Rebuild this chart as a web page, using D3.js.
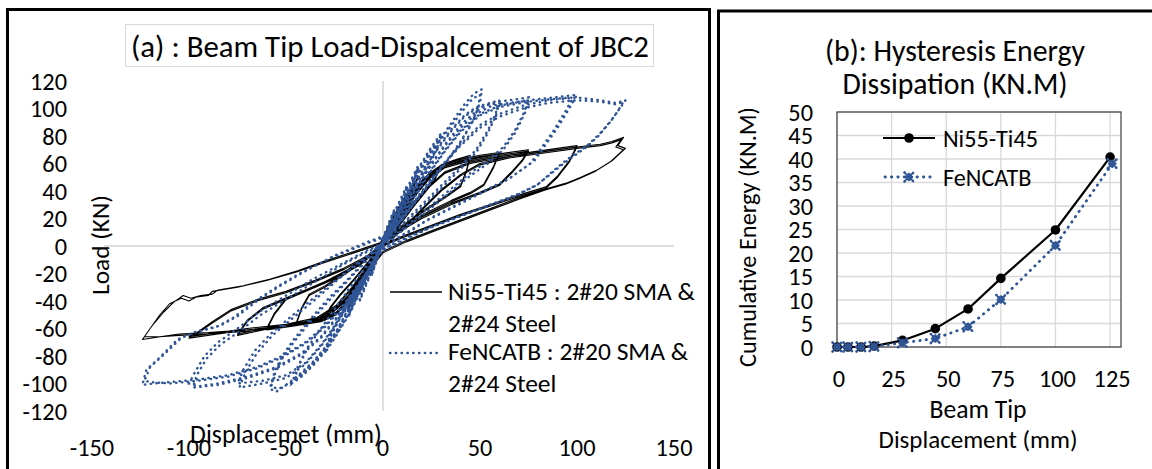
<!DOCTYPE html>
<html><head><meta charset="utf-8">
<script src="https://cdn.jsdelivr.net/npm/d3@7"></script>
<style>
html,body{margin:0;padding:0;background:#fff;}
svg{display:block;font-family:Carlito, Lato, "Open Sans", sans-serif;}
</style></head><body>
<svg id="c" width="1152" height="469"></svg>
<script>
// ---------- DATA ----------
// (a) Load–displacement hysteresis, [displacement mm, load kN]
const ni55Ti45Loop = [
[0,6],[3,15],[6,23],[5,17],[3,11],[0,3],[-3,-7],[-6,-17],[-5,-11],[-3,-5],[0,5],
[3,14],[6,22],[5,16],[3,10],[0,2],[-3,-8],[-6,-18],[-5,-12],[-3,-5],[0,5],
[4,17],[8,28],[12,38],[10,30],[6,19],[2,9],[0,3],[-4,-9],[-8,-21],[-12,-33],[-10,-25],[-6,-14],[-2,-3],[0,4],
[4,16],[8,27],[12,37],[10,29],[6,18],[2,8],[0,2],[-4,-10],[-8,-22],[-12,-34],[-10,-26],[-6,-15],[-2,-4],[0,4],
[5,19],[10,32],[15,43],[18,50],[15,41],[10,29],[5,17],[0,5],[-5,-11],[-10,-25],[-15,-38],[-18,-45],[-15,-35],[-10,-23],[-5,-11],[0,3],
[5,18],[10,31],[15,42],[18,49],[15,40],[10,28],[5,16],[0,4],[-5,-12],[-10,-26],[-15,-39],[-18,-46],[-15,-36],[-10,-24],[-5,-12],[0,3],
[6,20],[12,34],[18,45],[24,53],[30,59],[27,50],[22,41],[15,31],[8,19],[0,6],[-6,-11],[-12,-27],[-18,-40],[-24,-48],[-30,-52],[-27,-44],[-22,-35],[-15,-24],[-8,-12],[0,2],
[6,19],[12,33],[18,44],[24,52],[30,58],[27,49],[22,40],[15,30],[8,18],[0,5],[-6,-12],[-12,-28],[-18,-41],[-24,-49],[-30,-53],[-27,-45],[-22,-36],[-15,-25],[-8,-13],[0,2],
[6,18],[12,32],[18,44],[24,53],[30,59],[38,63],[45,66],[43,55],[40,44],[32,36],[22,27],[12,17],[0,6],[-6,-10],[-12,-25],[-18,-39],[-24,-48],[-30,-53],[-38,-55],[-45,-57],[-42,-45],[-38,-35],[-30,-29],[-20,-20],[-10,-10],[0,2],
[6,17],[12,31],[18,43],[24,52],[30,58],[38,62],[45,65],[43,54],[40,43],[32,35],[22,26],[12,16],[0,5],[-6,-11],[-12,-26],[-18,-40],[-24,-49],[-30,-54],[-38,-56],[-45,-58],[-42,-46],[-38,-36],[-30,-30],[-20,-21],[-10,-11],[0,1],
[6,16],[12,30],[18,42],[24,52],[30,58],[40,63],[50,66],[60,68],[57,58],[52,45],[45,39],[35,33],[22,24],[10,14],[0,4],[-6,-10],[-12,-25],[-18,-39],[-24,-49],[-32,-54],[-45,-57],[-60,-60],[-56,-49],[-50,-38],[-40,-32],[-30,-26],[-18,-17],[-8,-7],[0,2],
[6,15],[12,29],[18,41],[24,51],[30,57],[40,62],[50,65],[60,67],[57,57],[52,44],[45,38],[35,32],[22,23],[10,13],[0,3],[-6,-11],[-12,-26],[-18,-40],[-24,-50],[-32,-55],[-45,-58],[-60,-61],[-56,-50],[-50,-39],[-40,-33],[-30,-27],[-18,-18],[-8,-8],[0,1],
[6,15],[12,28],[18,40],[24,50],[32,58],[45,63],[60,67],[75,70],[72,63],[67,55],[60,45],[50,39],[35,31],[20,21],[8,11],[0,3],[-6,-10],[-12,-24],[-20,-40],[-28,-50],[-40,-55],[-55,-58],[-65,-61],[-75,-64],[-70,-54],[-62,-45],[-52,-39],[-40,-32],[-25,-23],[-12,-13],[0,1],
[6,14],[12,27],[18,39],[24,49],[32,57],[45,62],[60,66],[75,69],[72,62],[67,54],[60,44],[50,38],[35,30],[20,20],[8,10],[0,2],[-6,-11],[-12,-25],[-20,-41],[-28,-51],[-40,-56],[-55,-59],[-65,-62],[-75,-65],[-70,-55],[-62,-46],[-52,-40],[-40,-33],[-25,-24],[-12,-14],[0,0],
[8,15],[16,30],[24,44],[32,54],[45,61],[60,65],[80,69],[100,73],[96,62],[90,51],[84,43],[70,37],[55,30],[40,23],[25,15],[10,7],[0,1],[-8,-14],[-16,-30],[-24,-43],[-34,-52],[-50,-57],[-70,-60],[-85,-63],[-100,-66],[-96,-63],[-88,-55],[-78,-46],[-65,-39],[-50,-33],[-35,-25],[-20,-16],[-8,-7],[0,0],
[8,14],[16,29],[24,43],[32,53],[45,60],[60,64],[80,68],[100,72],[96,61],[90,50],[84,42],[70,36],[55,29],[40,22],[25,14],[10,6],[0,0],[-8,-15],[-16,-31],[-24,-44],[-34,-53],[-50,-58],[-70,-61],[-85,-64],[-100,-67],[-96,-64],[-88,-56],[-78,-47],[-65,-40],[-50,-34],[-35,-26],[-20,-17],[-8,-8],[0,-1],
[10,12],[20,27],[30,41],[40,52],[50,60],[65,65],[85,69],[100,72],[112,74],[118,76],[122,78],[124,79],[121,73],[125,71],[118,62],[110,55],[102,50],[95,46],[85,42],[70,35],[55,27],[40,19],[25,11],[12,4],[0,-4],[-8,-18],[-16,-33],[-24,-45],[-34,-53],[-50,-58],[-70,-61],[-90,-63],[-105,-64],[-115,-66],[-124,-68],[-120,-60],[-115,-50],[-110,-42],[-104,-38],[-100,-40],[-96,-37],[-90,-36],[-88,-33],[-75,-30],[-60,-25],[-45,-19],[-30,-12],[-15,-5],[0,2],
[10,11],[20,26],[30,40],[40,51],[50,59],[65,64],[85,68],[100,71],[112,73],[118,75],[122,77],[123,78],[120,72],[124,70],[117,61],[109,54],[101,49],[94,45],[84,41],[70,34],[55,26],[40,18],[25,10],[12,3],[0,-5],[-8,-19],[-16,-34],[-24,-46],[-34,-54],[-50,-59],[-70,-62],[-90,-64],[-105,-65],[-115,-66],[-123,-66],[-119,-58],[-113,-48],[-108,-41],[-103,-36],[-99,-38],[-94,-36],[-88,-35],[-85,-32],[-72,-29],[-58,-24],[-44,-18],[-30,-11],[-15,-4],[0,3]
];
const feNCATBLoop = [
[0,6],[3,17],[6,27],[4,18],[2,10],[0,3],[-3,-9],[-6,-21],[-4,-12],[-2,-4],[0,5],
[3,16],[6,26],[4,17],[2,9],[0,2],[-3,-10],[-6,-22],[-4,-13],[-2,-5],[0,5],
[4,19],[8,31],[12,43],[10,34],[6,22],[2,10],[0,4],[-4,-11],[-8,-25],[-12,-39],[-10,-30],[-6,-18],[-2,-5],[0,5],
[4,18],[8,30],[12,42],[10,33],[6,21],[2,9],[0,3],[-4,-12],[-8,-26],[-12,-40],[-10,-31],[-6,-19],[-2,-6],[0,4],
[6,23],[12,41],[18,58],[16,48],[12,36],[6,20],[0,4],[-6,-15],[-12,-33],[-18,-51],[-16,-42],[-12,-30],[-6,-14],[0,4],
[6,22],[12,40],[18,57],[16,47],[12,35],[6,19],[0,3],[-6,-16],[-12,-34],[-18,-52],[-16,-43],[-12,-31],[-6,-15],[0,3],
[6,21],[12,39],[18,56],[24,70],[30,82],[27,70],[22,56],[14,36],[6,18],[0,4],[-6,-14],[-12,-32],[-18,-50],[-24,-64],[-30,-76],[-27,-64],[-22,-50],[-14,-32],[-6,-14],[0,4],
[6,20],[12,38],[18,55],[24,69],[30,80],[27,68],[22,54],[14,34],[6,17],[0,3],[-6,-15],[-12,-33],[-18,-51],[-24,-65],[-30,-78],[-27,-66],[-22,-52],[-14,-33],[-6,-15],[0,3],
[6,19],[12,37],[18,53],[24,67],[30,79],[36,91],[42,103],[47,111],[51,114],[50,104],[46,90],[40,76],[32,60],[24,45],[14,28],[6,14],[0,4],[-6,-14],[-12,-30],[-18,-46],[-24,-62],[-30,-76],[-36,-86],[-42,-94],[-46,-98],[-43,-86],[-38,-72],[-30,-56],[-22,-40],[-14,-24],[-6,-10],[0,4],
[6,18],[12,36],[18,52],[24,66],[30,78],[36,89],[42,100],[46,107],[50,110],[49,100],[45,87],[39,73],[31,58],[23,43],[14,27],[6,13],[0,3],[-6,-15],[-12,-31],[-18,-47],[-24,-63],[-30,-77],[-36,-87],[-42,-95],[-47,-100],[-44,-88],[-39,-74],[-31,-58],[-23,-42],[-14,-25],[-6,-11],[0,3],
[6,17],[12,33],[18,49],[24,63],[30,75],[36,86],[42,95],[48,101],[55,104],[60,106],[58,96],[54,84],[48,70],[40,58],[30,44],[20,30],[10,16],[0,3],[-6,-14],[-12,-30],[-18,-46],[-24,-62],[-30,-74],[-36,-84],[-42,-92],[-48,-99],[-55,-106],[-58,-104],[-56,-94],[-52,-82],[-46,-70],[-38,-56],[-28,-40],[-18,-25],[-8,-10],[0,3],
[6,16],[12,32],[18,48],[24,62],[30,74],[36,85],[42,94],[48,100],[55,103],[60,104],[58,94],[54,82],[48,68],[40,56],[30,42],[20,28],[10,15],[0,2],[-6,-15],[-12,-31],[-18,-47],[-24,-63],[-30,-75],[-36,-85],[-42,-93],[-48,-100],[-54,-104],[-58,-102],[-56,-92],[-52,-80],[-46,-68],[-38,-54],[-28,-38],[-18,-24],[-8,-9],[0,3],
[8,20],[16,40],[24,58],[32,74],[40,88],[48,98],[56,104],[65,106],[75,108],[73,98],[68,84],[62,72],[54,62],[44,52],[32,38],[20,24],[8,10],[0,2],[-8,-18],[-16,-38],[-24,-56],[-32,-72],[-40,-85],[-50,-94],[-62,-98],[-75,-100],[-72,-90],[-66,-76],[-58,-64],[-48,-52],[-36,-38],[-22,-22],[-10,-9],[0,2],
[8,19],[16,39],[24,57],[32,73],[40,86],[48,96],[56,102],[65,104],[75,106],[73,96],[68,82],[62,70],[54,60],[44,50],[32,36],[20,22],[8,9],[0,1],[-8,-19],[-16,-39],[-24,-57],[-32,-73],[-40,-86],[-50,-96],[-62,-100],[-74,-103],[-71,-92],[-65,-78],[-57,-65],[-47,-53],[-35,-39],[-22,-23],[-10,-10],[0,1],
[8,18],[16,36],[24,54],[32,70],[40,84],[50,96],[60,102],[75,106],[88,108],[100,110],[96,100],[90,86],[84,74],[78,62],[66,50],[52,40],[38,30],[24,20],[10,8],[0,0],[-8,-18],[-16,-36],[-24,-52],[-32,-66],[-42,-78],[-55,-88],[-70,-95],[-85,-100],[-95,-102],[-100,-100],[-97,-92],[-92,-80],[-85,-70],[-75,-60],[-64,-48],[-50,-36],[-36,-24],[-20,-12],[-8,-3],[0,2],
[8,17],[16,35],[24,53],[32,69],[40,83],[50,95],[60,101],[75,105],[88,107],[98,108],[94,98],[88,84],[82,72],[76,60],[64,48],[50,38],[36,28],[22,18],[10,7],[0,-1],[-8,-19],[-16,-37],[-24,-53],[-32,-67],[-42,-79],[-55,-89],[-70,-96],[-85,-101],[-98,-103],[-96,-94],[-91,-82],[-84,-72],[-74,-62],[-63,-50],[-49,-38],[-35,-26],[-20,-13],[-8,-4],[0,1],
[10,20],[20,40],[30,58],[40,74],[50,88],[60,96],[72,102],[85,106],[100,108],[112,106],[120,104],[125,106],[122,100],[118,92],[112,82],[106,74],[100,68],[95,63],[88,55],[80,45],[70,38],[55,30],[40,22],[25,14],[12,6],[0,-2],[-10,-22],[-20,-42],[-30,-58],[-40,-70],[-52,-80],[-65,-88],[-80,-94],[-95,-97],[-110,-99],[-118,-100],[-124,-101],[-122,-90],[-115,-81],[-106,-68],[-98,-63],[-86,-59],[-77,-52],[-67,-41],[-55,-30],[-43,-20],[-26,-8],[-8,2],[0,6],
[10,19],[20,39],[30,57],[40,73],[50,86],[60,94],[72,100],[85,104],[100,106],[112,105],[120,103],[124,105],[121,98],[117,90],[111,80],[105,72],[99,66],[94,61],[87,53],[79,44],[69,37],[54,29],[39,21],[24,13],[12,5],[0,-3],[-10,-23],[-20,-43],[-30,-59],[-40,-71],[-52,-81],[-65,-89],[-80,-95],[-95,-98],[-110,-100],[-120,-99],[-123,-98],[-120,-88],[-113,-79],[-104,-67],[-96,-62],[-84,-58],[-75,-51],[-65,-40],[-53,-29],[-41,-19],[-25,-7],[-8,3],[0,7]
];
const loadTicks = [-120,-100,-80,-60,-40,-20,0,20,40,60,80,100,120];
const dispTicks = [-150,-100,-50,0,50,100,150];

// (b) Cumulative hysteresis energy
const energyDispNi = [0,5,11,17,30,45,60,75,100,125];
const energyNi     = [0,0,0,0.2,1.4,3.9,8.1,14.6,24.9,40.4];
const energyDispFe = [0,5,11,17,30,45,60,75,100,126];
const energyFe     = [0,0,0,0.1,0.9,1.8,4.3,10.1,21.6,39.0];
const energyTicks  = [0,5,10,15,20,25,30,35,40,45,50];
const energyDispTicks = [0,25,50,75,100,125];

const BLUE = "#2f5597";
const svg = d3.select("#c");

function fit(t, w){
  const len = t.node().getComputedTextLength();
  const fs = parseFloat(t.attr("font-size"));
  t.attr("font-size", (fs * w / len).toFixed(2));
  return t;
}
// tick font size: "120" is 37px wide in the reference
const probe = fit(svg.append("text").attr("font-size",20).text("120"), 37);
const TFS = +probe.attr("font-size");
probe.remove();

// ---------- Frames ----------
svg.append("rect").attr("x",7.5).attr("y",9.5).attr("width",702).attr("height",520)
  .attr("fill","none").attr("stroke","#000").attr("stroke-width",3);
svg.append("rect").attr("x",718.5).attr("y",11).attr("width",520).attr("height",520)
  .attr("fill","none").attr("stroke","#000").attr("stroke-width",3);

// ---------- (a) ----------
const xA = d3.scaleLinear().domain([-150,150]).range([92,674]);
const yA = d3.scaleLinear().domain([-120,120]).range([411,81]);

svg.append("line").attr("x1",104).attr("x2",674).attr("y1",yA(0)).attr("y2",yA(0))
  .attr("stroke","#d0d0d0").attr("stroke-width",1.3);
svg.append("line").attr("x1",xA(0)).attr("x2",xA(0)).attr("y1",yA(120)).attr("y2",yA(-120))
  .attr("stroke","#d0d0d0").attr("stroke-width",1.3);

const lineA = d3.line().x(d=>xA(d[0])).y(d=>yA(d[1]));
svg.append("path").datum(ni55Ti45Loop).attr("d",lineA).attr("fill","none")
  .attr("stroke","#000").attr("stroke-width",1.1).attr("stroke-linejoin","round");
svg.append("path").datum(feNCATBLoop).attr("d",lineA).attr("fill","none")
  .attr("stroke",BLUE).attr("stroke-width",2.4).attr("stroke-linecap","round")
  .attr("stroke-dasharray","0.4 5.4");

// y tick labels
svg.append("g").selectAll("text").data(loadTicks).join("text")
  .attr("x",67).attr("y",d=>yA(d)).attr("dy","0.36em").attr("text-anchor","end")
  .attr("font-size",TFS).attr("fill","#000").text(d=>d);
// x tick labels
svg.append("g").selectAll("text").data(dispTicks).join("text")
  .attr("x",d=>xA(d)).attr("y",456).attr("text-anchor","middle")
  .attr("font-size",TFS).attr("fill","#000").text(d=>d);

// title box
svg.append("rect").attr("x",125.5).attr("y",24.5).attr("width",528).attr("height",42)
  .attr("fill","#fff").attr("stroke","#d9d9d9").attr("stroke-width",1);
fit(svg.append("text").attr("x",131).attr("y",57).attr("font-size",24)
  .text("(a) : Beam Tip Load-Dispalcement of JBC2"), 518);

// axis titles
fit(svg.append("text").attr("transform","translate(109,245) rotate(-90)")
  .attr("text-anchor","middle").attr("font-size",21).text("Load (KN)"), 100);
fit(svg.append("text").attr("x",286).attr("y",443).attr("text-anchor","middle")
  .attr("font-size",21).text("Displacemet (mm)"), 192);

// legend (a)
svg.append("line").attr("x1",390).attr("x2",442).attr("y1",292).attr("y2",292)
  .attr("stroke","#000").attr("stroke-width",1.3);
svg.append("line").attr("x1",390).attr("x2",442).attr("y1",353).attr("y2",353)
  .attr("stroke",BLUE).attr("stroke-width",2.4).attr("stroke-linecap","round")
  .attr("stroke-dasharray","0.4 5.4");
const lg1 = svg.append("text").attr("x",448).attr("y",300).attr("font-size",21).text("Ni55-Ti45 : 2#20 SMA &");
fit(lg1, 247);
const lfs = lg1.attr("font-size");
svg.append("text").attr("x",448).attr("y",332).attr("font-size",lfs).text("2#24 Steel");
svg.append("text").attr("x",448).attr("y",360).attr("font-size",lfs).text("FeNCATB : 2#20 SMA &");
svg.append("text").attr("x",448).attr("y",392).attr("font-size",lfs).text("2#24 Steel");

// ---------- (b) ----------
const xB = d3.scaleLinear().domain([0,130]).range([837,1121]);
const yB = d3.scaleLinear().domain([0,50]).range([347,112]);

svg.append("g").selectAll("line").data(energyTicks).join("line")
  .attr("x1",xB(0)).attr("x2",xB(130)).attr("y1",d=>yB(d)).attr("y2",d=>yB(d))
  .attr("stroke","#d9d9d9").attr("stroke-width",1.3);
svg.append("g").selectAll("line").data(energyDispTicks).join("line")
  .attr("y1",yB(0)).attr("y2",yB(50)).attr("x1",d=>xB(d)).attr("x2",d=>xB(d))
  .attr("stroke","#d9d9d9").attr("stroke-width",1.3);
svg.append("rect").attr("x",xB(0)).attr("y",yB(50)).attr("width",xB(130)-xB(0)).attr("height",yB(0)-yB(50))
  .attr("fill","none").attr("stroke","#404040").attr("stroke-width",1.2);

svg.append("g").selectAll("text").data(energyTicks).join("text")
  .attr("x",813).attr("y",d=>yB(d)).attr("dy","0.36em").attr("text-anchor","end")
  .attr("font-size",TFS).text(d=>d);
svg.append("g").selectAll("text").data(energyDispTicks).join("text")
  .attr("x",d=>xB(d)+2).attr("y",387).attr("text-anchor","middle")
  .attr("font-size",TFS).text(d=>d);

const niPts = energyDispNi.map((d,i)=>[d,energyNi[i]]);
const fePts = energyDispFe.map((d,i)=>[d,energyFe[i]]);
const lineB = d3.line().x(d=>xB(d[0])).y(d=>yB(d[1]));

svg.append("path").datum(niPts).attr("d",lineB).attr("fill","none")
  .attr("stroke","#000").attr("stroke-width",2.2).attr("stroke-linejoin","round");
svg.append("g").selectAll("circle").data(niPts).join("circle")
  .attr("cx",d=>xB(d[0])).attr("cy",d=>yB(d[1])).attr("r",4.8).attr("fill","#000");

svg.append("path").datum(fePts).attr("d",lineB).attr("fill","none")
  .attr("stroke",BLUE).attr("stroke-width",2.8).attr("stroke-linecap","round")
  .attr("stroke-dasharray","0.4 6");
const xMark = "M-4.5,-4.5L4.5,4.5M-4.5,4.5L4.5,-4.5M0,-3L0,3M-3,0L3,0";
svg.append("g").selectAll("path").data(fePts).join("path")
  .attr("transform",d=>`translate(${xB(d[0])},${yB(d[1])})`).attr("d",xMark)
  .attr("fill","none").attr("stroke",BLUE).attr("stroke-width",2.6)
  .attr("stroke-linecap","round").attr("stroke-dasharray","0.5 2.4");

// title (b)
fit(svg.append("text").attr("x",955).attr("y",61).attr("text-anchor","middle")
  .attr("font-size",24).text("(b): Hysteresis Energy"), 260);
fit(svg.append("text").attr("x",955).attr("y",94).attr("text-anchor","middle")
  .attr("font-size",24).text("Dissipation (KN.M)"), 225);

// axis titles (b)
fit(svg.append("text").attr("transform","translate(756,237) rotate(-90)")
  .attr("text-anchor","middle").attr("font-size",21).text("Cumulative Energy (KN.M)"), 260);
fit(svg.append("text").attr("x",978).attr("y",418).attr("text-anchor","middle")
  .attr("font-size",21).text("Beam Tip"), 97);
fit(svg.append("text").attr("x",978).attr("y",448).attr("text-anchor","middle")
  .attr("font-size",21).text("Displacement (mm)"), 199);

// legend (b)
svg.append("line").attr("x1",883).attr("x2",935).attr("y1",138).attr("y2",138)
  .attr("stroke","#000").attr("stroke-width",2.2);
svg.append("circle").attr("cx",909).attr("cy",138).attr("r",4.8).attr("fill","#000");
svg.append("line").attr("x1",885).attr("x2",935).attr("y1",177).attr("y2",177)
  .attr("stroke",BLUE).attr("stroke-width",2.8).attr("stroke-linecap","round")
  .attr("stroke-dasharray","0.4 6");
svg.append("path").attr("transform","translate(909,177)").attr("d",xMark)
  .attr("fill","none").attr("stroke",BLUE).attr("stroke-width",2.6)
  .attr("stroke-linecap","round").attr("stroke-dasharray","0.5 2.4");
const lb1 = fit(svg.append("text").attr("x",943).attr("y",147).attr("font-size",21).text("Ni55-Ti45"), 95);
svg.append("text").attr("x",943).attr("y",186).attr("font-size",lb1.attr("font-size")).text("FeNCATB");
</script>
</body></html>
